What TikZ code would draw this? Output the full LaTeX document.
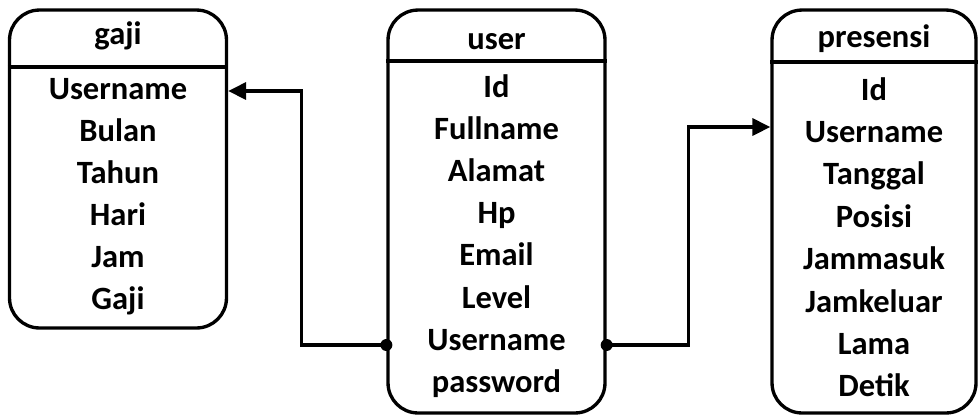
\documentclass[tikz,border=0pt]{standalone}
\usepackage{fontspec}
\setmainfont{Carlito}
\usetikzlibrary{arrows.meta}

\begin{document}
\begin{tikzpicture}[x=0.02cm,y=-0.02cm,
  tabel/.style={draw,line width=1.9pt,rounded corners=0.6cm,minimum width=4.34cm,inner sep=0pt},
  isi/.style={font=\fontsize{18.5}{22}\selectfont\bfseries,inner sep=0pt,anchor=base},
  garis/.style={line width=1.9pt},
  panah/.style={line width=1.9pt,-{Triangle[length=0.36cm,width=0.34cm]}}]
  \useasboundingbox (0,0) rectangle (979,417);

  % tabel gaji
  \node[tabel,minimum height=6.36cm] (gaji) at (118,169) {};
  \draw[garis] (gaji.west |- 0,67) -- (gaji.east |- 0,67);
  \node[isi] (gajijudul) at (118,44) {gaji};
  \foreach \teks [count=\i] in {Username,Bulan,Tahun,Hari,Jam,Gaji}
    \node[isi] (g\i) at (118,{99+42*(\i-1)}) {\teks};

  % tabel user
  \node[tabel,minimum height=8.06cm] (user) at (496.5,211.5) {};
  \draw[garis] (user.west |- 0,61) -- (user.east |- 0,61);
  \node[isi] (userjudul) at (496.5,49) {user};
  \foreach \teks [count=\i] in {Id,Fullname,Alamat,Hp,Email,Level,Username,password}
    \node[isi] (u\i) at (496.5,{97+42.2*(\i-1)}) {\teks};

  % tabel presensi
  \node[tabel,minimum width=4.08cm,minimum height=8.06cm] (presensi) at (874,211.5) {};
  \draw[garis] (presensi.west |- 0,62) -- (presensi.east |- 0,62);
  \node[isi] (presensijudul) at (874,47) {presensi};
  \foreach \teks [count=\i] in {Id,Username,Tanggal,Posisi,Jammasuk,Jamkeluar,Lama,Detik}
    \node[isi] (p\i) at (874,{100+42.4*(\i-1)}) {\teks};

  % relasi
  \coordinate (titikkiri) at (user.west |- 0,345);
  \coordinate (panahkiri) at (gaji.east |- 0,91);
  \coordinate (titikkanan) at (user.east |- 0,345);
  \coordinate (panahkanan) at (presensi.west |- 0,127);
  \draw[panah] (titikkiri) -- ++(-85,0) |- (panahkiri);
  \draw[panah] (titikkanan) -- ++(82,0) |- (panahkanan);
  \fill (titikkiri) circle (6);
  \fill (titikkanan) circle (6);
\end{tikzpicture}
\end{document}
